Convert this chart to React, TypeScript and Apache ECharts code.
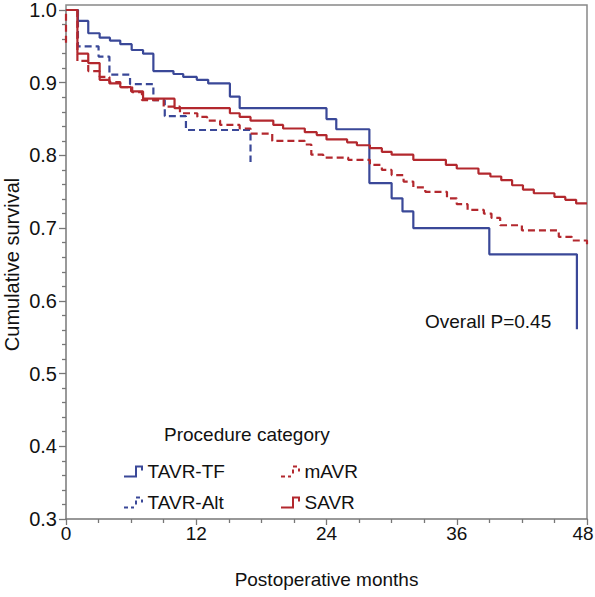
import React, { useEffect, useRef } from "react";
import * as echarts from "echarts";

// Kaplan-Meier step data: [month, survival after step]
const tavrTF: number[][] = [
  [0, 1], [1.1, 0.985], [2.05, 0.968], [3.1, 0.962], [4.05, 0.958], [5.0, 0.953],
  [6.05, 0.945], [7.1, 0.94], [8.05, 0.916], [9.9, 0.912], [10.8, 0.908], [12.05, 0.904],
  [13.1, 0.899], [15.1, 0.881], [16.0, 0.865], [24.0, 0.85], [24.9, 0.836], [27.95, 0.762],
  [30.0, 0.741], [31.0, 0.723], [32.0, 0.7], [39.0, 0.664], [47.07, 0.561],
];
const tavrAlt: number[][] = [
  [0, 1], [1.1, 0.95], [3.0, 0.936], [4.0, 0.911], [5.9, 0.898], [8.05, 0.876],
  [9.1, 0.854], [11.05, 0.835], [17.0, 0.791],
];
const mAVR: number[][] = [
  [0, 0.955], [0, 1], [1.05, 0.93], [2.05, 0.916], [3.1, 0.908], [4.0, 0.901], [5.0, 0.894],
  [6.1, 0.887], [7.0, 0.876], [9.0, 0.867], [10.5, 0.858], [12.1, 0.853], [13.0, 0.848],
  [14.2, 0.842], [16.0, 0.837], [17.0, 0.83], [19.0, 0.82], [22.0, 0.815], [22.6, 0.801],
  [23.7, 0.797], [26.0, 0.794], [28.0, 0.787], [29.1, 0.78], [30.0, 0.773], [31.1, 0.764],
  [32.0, 0.756], [33.1, 0.75], [35.1, 0.741], [36.0, 0.733], [37.0, 0.725], [38.5, 0.72],
  [39.2, 0.714], [40.0, 0.704], [42.0, 0.697], [45.4, 0.688], [46.6, 0.683], [48.0, 0.677],
];
const sAVR: number[][] = [
  [0, 1], [1.05, 0.94], [2.05, 0.927], [3.1, 0.904], [4.0, 0.899], [5.0, 0.894], [6.0, 0.888],
  [7.1, 0.878], [10.0, 0.865], [15.1, 0.858], [16.0, 0.853], [17.0, 0.848], [19.1, 0.842],
  [20.0, 0.837], [22.0, 0.832], [23.1, 0.828], [24.0, 0.822], [25.9, 0.818], [26.8, 0.814],
  [28.0, 0.81], [29.1, 0.805], [30.0, 0.801], [32.0, 0.794], [35.0, 0.787], [36.0, 0.782],
  [38.0, 0.775], [39.1, 0.771], [40.1, 0.766], [41.1, 0.759], [42.1, 0.753], [43.1, 0.748],
  [45.0, 0.743], [46.0, 0.739], [47.0, 0.734], [48.0, 0.734],
];

const seriesNames = ["TAVR-TF", "TAVR-Alt", "mAVR", "SAVR"];
const xTicks = { min: 0, max: 48, interval: 12 };
const yTicks = { min: 0.3, max: 1.0, interval: 0.1 };

const BLUE = "#3a4898";
const RED = "#b3282e";
const FONT = "'Liberation Sans', Arial, Helvetica, sans-serif";

const solidIcon = "path://M0,10 L11,10 L11,0 L19,0 L19,5 L17,5 L17,2 L13,2 L13,12 L0,12 Z";
const dashIcon =
  "path://M0,10 L4,10 L4,12 L0,12 Z M7,10 L10,10 L10,12 L7,12 Z M11,4 L13,4 L13,8 L11,8 Z M12,0 L16,0 L16,2 L12,2 Z M17,3 L19,3 L19,6 L17,6 Z";

export default function App() {
  const ref = useRef<HTMLDivElement>(null);
  useEffect(() => {
    if (!ref.current) return;
    const chart = echarts.init(ref.current, undefined, { renderer: "svg" });
    const mk = (name: string, data: number[][], color: string, dashed: boolean) => ({
      name,
      type: "line",
      data,
      step: "end",
      symbol: "none",
      clip: false,
      lineStyle: { color, width: 2.2, type: dashed ? [7, 4] : "solid" },
      itemStyle: { color },
    });
    chart.setOption({
      animation: false,
      textStyle: { fontFamily: FONT },
      grid: { left: 66, right: 8, top: 10, bottom: 78, containLabel: false, outerBoundsMode: "none" },
      xAxis: {
        type: "value",
        min: xTicks.min,
        max: xTicks.max,
        interval: xTicks.interval,
        name: "Postoperative months",
        nameLocation: "middle",
        nameGap: 51,
        nameMoveOverlap: false,
        nameTextStyle: { fontSize: 19, color: "#111", fontFamily: FONT },
        axisLine: { lineStyle: { color: "#777", width: 1.5 } },
        axisTick: { show: true, length: 6, lineStyle: { color: "#777", width: 1.3 } },
        minorTick: { show: true, splitNumber: 4, length: 4, lineStyle: { color: "#777", width: 1.3 } },
        splitLine: { show: false },
        axisLabel: {
          fontSize: 19,
          color: "#111",
          margin: 5,
          fontFamily: FONT,
          formatter: (v: number) => (v === xTicks.max ? `{last|${v}}` : `${v}`),
          rich: { last: { fontSize: 19, color: "#111", fontFamily: FONT, padding: [0, 8, 0, 0] } },
        },
      },
      yAxis: {
        type: "value",
        min: yTicks.min,
        max: yTicks.max,
        interval: yTicks.interval,
        name: "Cumulative survival",
        nameLocation: "middle",
        nameGap: 44,
        nameMoveOverlap: false,
        nameTextStyle: { fontSize: 20, color: "#111", fontFamily: FONT, lineHeight: 20 },
        axisLine: { show: true, lineStyle: { color: "#777", width: 1.5 } },
        axisTick: { show: true, length: 7, lineStyle: { color: "#777", width: 1.3 } },
        minorTick: { show: true, splitNumber: 5, length: 4, lineStyle: { color: "#777", width: 1.3 } },
        splitLine: { show: false },
        axisLabel: {
          fontSize: 20,
          color: "#111",
          margin: 9,
          fontFamily: FONT,
          formatter: (v: number) => v.toFixed(1),
        },
      },
      legend: [
        {
          left: 119,
          top: 457,
          orient: "vertical",
          itemGap: 12,
          itemWidth: 24,
          itemHeight: 12,
          data: [
            { name: seriesNames[0], icon: solidIcon },
            { name: seriesNames[1], icon: dashIcon },
          ],
          textStyle: { fontSize: 19, color: "#111", fontFamily: FONT, padding: [0, 0, 0, -3] },
          itemStyle: { borderWidth: 0 },
          lineStyle: { width: 0 },
        },
        {
          left: 276,
          top: 457,
          orient: "vertical",
          itemGap: 12,
          itemWidth: 24,
          itemHeight: 12,
          data: [
            { name: seriesNames[2], icon: dashIcon },
            { name: seriesNames[3], icon: solidIcon },
          ],
          textStyle: { fontSize: 19, color: "#111", fontFamily: FONT, padding: [0, 0, 0, -3] },
          itemStyle: { borderWidth: 0 },
          lineStyle: { width: 0 },
        },
      ],
      graphic: [
        {
          type: "polyline",
          shape: { points: [[66, 10], [66, 5], [587, 5], [587, 519]] },
          style: { stroke: "#888", lineWidth: 1.5, fill: "none" },
          silent: true,
        },
        {
          type: "text",
          left: 164,
          top: 425,
          style: { text: "Procedure category", font: `19px ${FONT}`, fill: "#111" },
        },
        {
          type: "text",
          left: 425,
          top: 312,
          style: { text: "Overall P=0.45", font: `19px ${FONT}`, fill: "#111" },
        },
      ],
      series: [
        mk(seriesNames[0], tavrTF, BLUE, false),
        mk(seriesNames[1], tavrAlt, BLUE, true),
        mk(seriesNames[2], mAVR, RED, true),
        mk(seriesNames[3], sAVR, RED, false),
      ],
    });
    return () => chart.dispose();
  }, []);
  return (
    <div
      ref={ref}
      style={{ position: "fixed", left: 0, top: 0, width: 595, height: 597, background: "#fff" }}
    />
  );
}
